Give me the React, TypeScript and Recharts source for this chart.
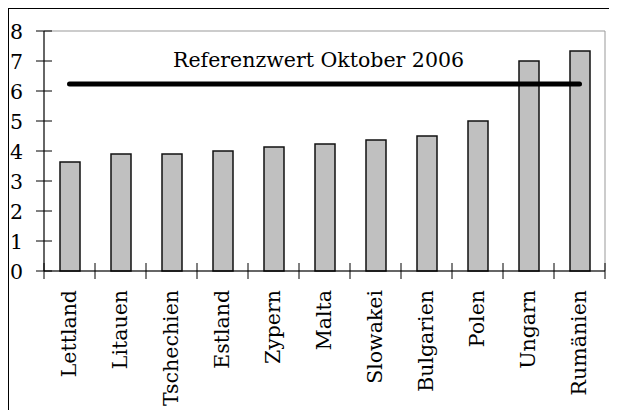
import React from "react";
import { ComposedChart, Bar, Line, XAxis, YAxis, ReferenceArea } from "recharts";

const countries = ["Lettland", "Litauen", "Tschechien", "Estland", "Zypern", "Malta", "Slowakei", "Bulgarien", "Polen", "Ungarn", "Rumänien"];
const inflation = [3.63, 3.9, 3.9, 4.0, 4.13, 4.23, 4.37, 4.5, 5.0, 7.0, 7.33];
const referenceValue = 6.23;
const referenceLabel = "Referenzwert Oktober 2006";
const yTicks = [0, 1, 2, 3, 4, 5, 6, 7, 8];

const data = countries.map((c, i) => ({ name: c, value: inflation[i], refValue: referenceValue }));

const FONT = "'DejaVu Serif', serif";
const FS = 20.5;
const BAND = 561 / 11;

const YTick = (props: any) => {
  const { x, y, payload } = props;
  return (
    <g>
      <line x1={x - 8} x2={x + 8} y1={y} y2={y} stroke="#000" strokeWidth={1} />
      <text x={x - 21} y={y + 7.5} textAnchor="end" fontFamily={FONT} fontSize={FS} fill="#000">
        {payload.value}
      </text>
    </g>
  );
};

const XTick = (props: any) => {
  const { x, y, payload, index } = props;
  const isLast = index === countries.length - 1;
  return (
    <g>
      <line x1={x - BAND / 2} x2={x - BAND / 2} y1={y - 8} y2={y + 8} stroke="#000" strokeWidth={1} />
      {isLast && <line x1={x + BAND / 2} x2={x + BAND / 2} y1={y - 8} y2={y + 8} stroke="#000" strokeWidth={1} />}
      <text
        x={x + 6.5}
        y={y + 19}
        transform={`rotate(-90, ${x + 6.5}, ${y + 19})`}
        textAnchor="end"
        fontFamily={FONT}
        fontSize={FS}
        fill="#000"
      >
        {payload.value}
      </text>
    </g>
  );
};

export default function App() {
  return (
    <div style={{ position: "relative", width: 609, height: 402, borderLeft: "1px solid #000", borderTop: "1px solid #000" }}>
      <ComposedChart width={608} height={401} data={data} margin={{ top: 22, right: 12, left: 0, bottom: 0 }}>
        <ReferenceArea x1="Lettland" x2="Rumänien" y1={0} y2={8} stroke="#999" strokeWidth={1} fill="none" fillOpacity={0} ifOverflow="visible" />
        <XAxis
          dataKey="name"
          interval={0}
          height={139}
          tickLine={false}
          tickSize={0}
          tickMargin={0}
          axisLine={{ stroke: "#000", strokeWidth: 1 }}
          tick={<XTick />}
        />
        <YAxis
          width={35}
          domain={[0, 8]}
          ticks={yTicks}
          interval={0}
          tickLine={false}
          tickSize={0}
          tickMargin={0}
          axisLine={{ stroke: "#000", strokeWidth: 1 }}
          tick={<YTick />}
        />
        <Bar dataKey="value" barSize={20} fill="#c0c0c0" stroke="#111" strokeWidth={1.5} isAnimationActive={false} />
        <Line dataKey="refValue" stroke="#000" strokeWidth={5} strokeLinecap="round" dot={false} activeDot={false} isAnimationActive={false} />
      </ComposedChart>
      <span
        style={{
          position: "absolute",
          left: 164,
          top: 39,
          whiteSpace: "nowrap",
          fontFamily: FONT,
          fontSize: FS,
          lineHeight: "24px",
          color: "#000",
        }}
      >
        {referenceLabel}
      </span>
    </div>
  );
}
